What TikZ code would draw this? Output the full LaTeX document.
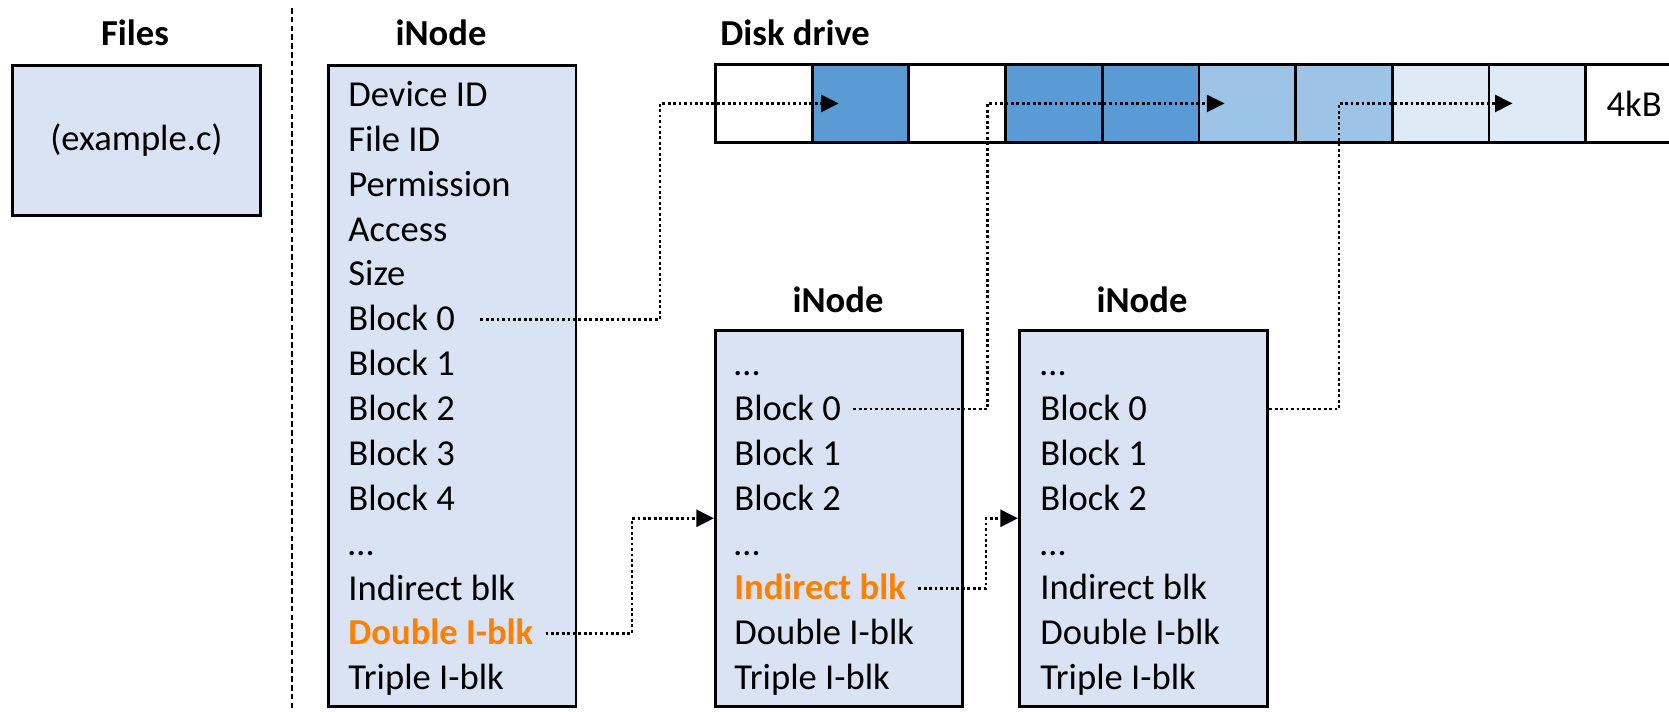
\documentclass[tikz,border=0pt]{standalone}
\usepackage{fontspec}
\setmainfont{Carlito}
\usepackage{tikz}
\usetikzlibrary{arrows.meta}

\definecolor{boxfill}{HTML}{DAE3F3}
\definecolor{dkblue}{HTML}{5B9BD5}
\definecolor{mdblue}{HTML}{9DC3E6}
\definecolor{ltblue}{HTML}{DEEBF7}
\definecolor{hot}{HTML}{FF7F00}
\newcommand{\hot}[1]{\textcolor{hot}{\bfseries #1}}

\begin{document}
\begin{tikzpicture}[x=0.01cm, y=-0.01cm,
  every node/.style={font=\fontsize{10.4}{12}\selectfont},
  title/.style={font=\fontsize{10.4}{12}\selectfont\bfseries},
  ibox/.style={draw, fill=boxfill, line width=0.8pt, anchor=north west},
  row/.style={anchor=west, text height=0.65em, text depth=0pt},
  cell/.style={draw, line width=0.8pt, minimum width=0.967cm,
    minimum height=0.78cm, inner sep=0pt, anchor=north west},
  link/.style={line width=0.8pt, dash pattern=on 0.8pt off 0.75pt,
    -{Triangle[length=5pt,width=4.8pt]}}]
\useasboundingbox (0,0) rectangle (1669,711);

\node[title] (tFiles) at (135,33) {Files};
\node[title] (tInoA) at (441,33) {iNode};
\node[title, anchor=west] (tDisk) at (708,33) {Disk drive};
\node[title] (tInoB) at (838,300) {iNode};
\node[title] (tInoC) at (1142,300) {iNode};

\draw[line width=0.7pt, dash pattern=on 1.6pt off 0.9pt] (292,8) -- (292,711);

\node[ibox, minimum width=2.48cm, minimum height=1.5cm] (file) at (11,64)
    {(example.c)};
\node[ibox, minimum width=2.475cm, minimum height=6.41cm] (inoA) at (327,64) {};
\node[ibox, minimum width=2.467cm, minimum height=3.755cm] (inoB) at (714,329) {};
\node[ibox, minimum width=2.483cm, minimum height=3.755cm] (inoC) at (1018,329) {};

\foreach \t [count=\i] in {Device ID, File ID, Permission, Access, Size,
    Block 0, Block 1, Block 2, Block 3, Block 4, \dots, Indirect blk,
    \hot{Double I-blk}, Triple I-blk}
  \node[row] (inoA-\i) at (336, {95+(\i-1)*44.87}) {\t};
\foreach \t [count=\i] in {\dots, Block 0, Block 1, Block 2, \dots,
    \hot{Indirect blk}, Double I-blk, Triple I-blk}
  \node[row] (inoB-\i) at (722, {364.2+(\i-1)*44.87}) {\t};
\foreach \t [count=\i] in {\dots, Block 0, Block 1, Block 2, \dots,
    Indirect blk, Double I-blk, Triple I-blk}
  \node[row] (inoC-\i) at (1028, {364.2+(\i-1)*44.87}) {\t};

% disk blocks
\foreach \c [count=\i] in {white, dkblue, white, dkblue, dkblue,
    mdblue, mdblue, ltblue, ltblue}
  \node[cell, fill=\c] (cell\i) at ({714+(\i-1)*96.7}, 63) {};
\node[cell] (cell10) at (1584.3,63) {4kB};

\coordinate (jogA) at (660,200);
\coordinate (jogB) at (632,570);
\coordinate (jogC) at (987.5,250);
\coordinate (jogD) at (986,550);
\coordinate (jogE) at (1339,250);

\draw[link] ([xshift=0.13cm]inoA-6.east) -| (jogA) |- ([xshift=0.28cm]cell2.west);
\draw[link] (inoA-13.east) -| (jogB) |- (inoB.west);
\draw[link] (inoB-2.east) -| (jogC) |- ([xshift=0.27cm]cell6.west);
\draw[link] (inoB-6.east) -| (jogD) |- (inoC.west);
\draw[link] (inoC.east |- inoC-2) -| (jogE) |- ([xshift=0.25cm]cell9.west);
\end{tikzpicture}
\end{document}
